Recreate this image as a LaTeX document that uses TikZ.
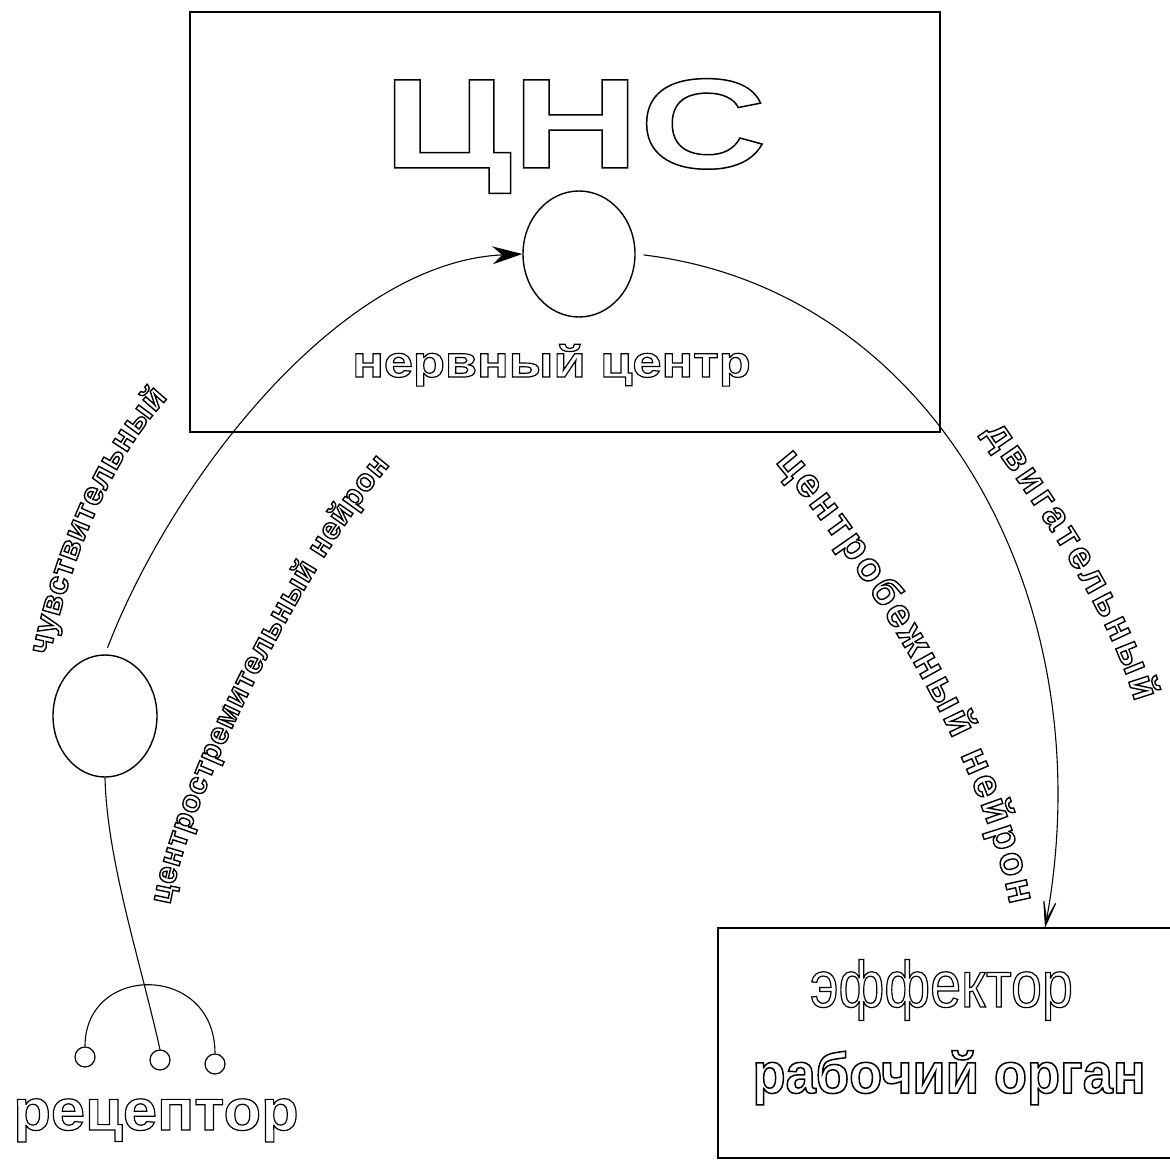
\documentclass[tikz,border=0pt]{standalone}
\usepackage{fontspec}
\setmainfont{Liberation Sans}
\usetikzlibrary{arrows.meta,decorations.text,shapes.geometric}
% horizontally stretched variants of Arial-metric sans
\newfontfamily\cnsfont[FakeStretch=1.38]{Liberation Sans}
\newfontfamily\nervefont[FakeStretch=1.19]{Liberation Sans}
\newfontfamily\recfont[FakeStretch=1.06]{Liberation Sans}
\newfontfamily\efffont[FakeStretch=0.85]{Liberation Sans}
\newfontfamily\organfont[FakeStretch=0.95]{Liberation Sans}
\newfontfamily\arcfont{Liberation Sans}
% fonts of the fibre labels; each also sets the stroke width of its glyph outlines
\newcommand\sensfont{\arcfont\bfseries\fontsize{33}{35}\selectfont\pgfsetlinewidth{1.4pt}}
\newcommand\afffont{\arcfont\bfseries\fontsize{31}{33}\selectfont\pgfsetlinewidth{1.4pt}}
\newcommand\motorfont{\arcfont\bfseries\fontsize{40}{42}\selectfont\pgfsetlinewidth{1.4pt}}
\newcommand\movefont{\arcfont\bfseries\fontsize{38}{40}\selectfont\pgfsetlinewidth{1.4pt}}
\tikzset{
  frame/.style={draw, rectangle, line width=1.6pt, inner sep=0pt},
  cell/.style={draw, ellipse, line width=1.4pt, inner sep=0pt},
  dot/.style={draw, circle, line width=1.2pt, minimum size=20pt, inner sep=0pt},
  nerve/.style={line width=1.1pt},
  outl/.style={line width=1.2pt, inner sep=0pt, anchor=base},
  arclabel/.style={decorate, line width=1.4pt},
}
\begin{document}
\begin{tikzpicture}[x=1pt, y=-1pt]
% all glyphs are stroked, not filled (outline lettering)
\special{pdf:literal direct 1 Tr}
\useasboundingbox (0,0) rectangle (1170,1161);

% boxes
\node[frame, minimum width=750pt, minimum height=420pt] (cns) at (565,222) {};
\node[frame, minimum width=457pt, minimum height=230pt] (eff) at (946.5,1043) {};

% neurons and receptor endings
\node[cell, minimum width=112pt, minimum height=126pt] (cc) at (579,254) {};
\node[cell, minimum width=104pt, minimum height=122pt] (lc) at (105,716) {};
\node[dot] (r1) at (85,1057) {};
\node[dot] (r2) at (160,1060) {};
\node[dot] (r3) at (215,1064) {};
\coordinate (effin) at (1045,928);

% lettering
\node[outl, line width=1.5pt, font=\cnsfont\bfseries\fontsize{128}{130}\selectfont] (cnslabel) at (575,168) {ЦНС};
\node[outl, font=\nervefont\bfseries\fontsize{44}{46}\selectfont] (centre) at (551.5,377) {нервный центр};
\node[outl, font=\recfont\bfseries\fontsize{58}{60}\selectfont] (receptor) at (156,1130) {рецептор};
\node[outl, font=\efffont\fontsize{65.5}{67}\selectfont] (effector) at (941.5,1007) {эффектор};
\node[outl, line width=1.5pt, font=\organfont\bfseries\fontsize{57}{59}\selectfont] (organ) at (949,1093) {рабочий орган};

% reflex arc
\draw[nerve, shorten <=7pt, -{Stealth[length=30pt,width=18pt,inset=10pt]}]
  (lc.north) .. controls (172,480) and (340,262) .. (cc.west);
\draw[nerve, shorten <=8pt, -{Stealth[length=40pt,width=20pt,inset=30pt]}]
  (cc.east) .. controls (935,290) and (1105,600) .. (effin);
\draw[nerve] (lc.south) .. controls (107,860) and (140,960) .. (r2.north);
\draw[nerve] (r1.north) .. controls (85,963) and (215,963) .. (r3.north);

% labels along the fibres
\path[arclabel, decoration={text along path, text={|\sensfont|чувствительный}, text align={fit to path}}]
  (50,655) .. controls (70,560) and (110,460) .. (168,398);
\path[arclabel, decoration={text along path, text={|\afffont|центростремительный нейрон}, text align={fit to path}}]
  (170,905) .. controls (190,790) and (305,565) .. (390,465);
\path[arclabel, decoration={text along path, text={|\motorfont|центробежный нейрон}, text align={fit to path}}]
  (775,462) .. controls (845,545) and (975,730) .. (1010,905);
\path[arclabel, decoration={text along path, text={|\movefont|двигательный}, text align={fit to path}}]
  (984,432) .. controls (1030,500) and (1105,600) .. (1135,702);
\end{tikzpicture}
\end{document}
